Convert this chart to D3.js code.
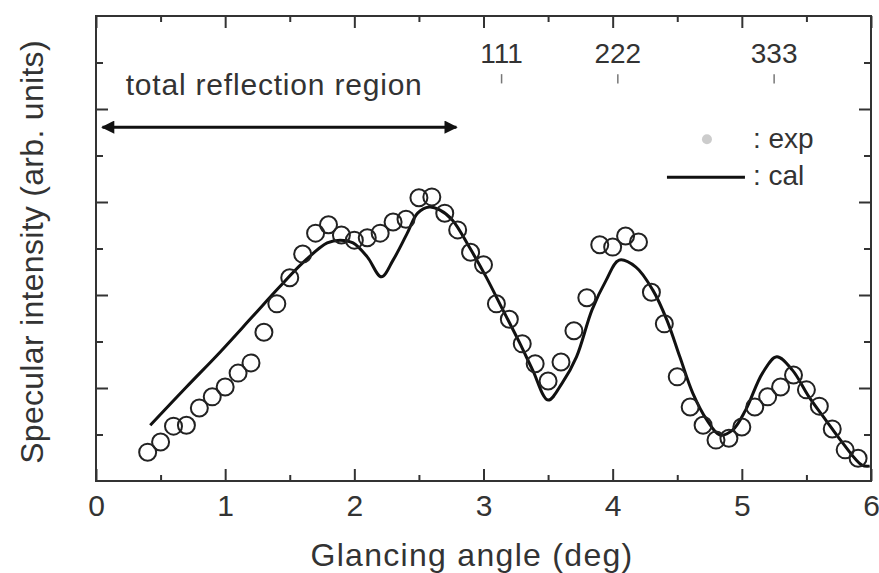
<!DOCTYPE html>
<html lang="en">
<head>
    <meta charset="UTF-8">
    <title>Specular intensity vs glancing angle</title>
    <script src="https://d3js.org/d3.v7.min.js"></script>
    <style>
        body { margin: 0; background: #fff; }
        text { font-family: "Liberation Sans", Arial, sans-serif; fill: #333; }
        .frame { fill: none; stroke: #333; stroke-width: 2; }
        .axis path { display: none; }
        .axis line { stroke: #333; stroke-width: 2; }
        .exp { fill: none; stroke: #222; stroke-width: 2; }
        .cal { fill: none; stroke: #111; stroke-width: 3; }
    </style>
</head>
<body>
<div id="chart"></div>
<script>
    // measured points (open circles)
    const expAngle = [0.4, 0.5, 0.6, 0.7, 0.8, 0.9, 1.0, 1.1, 1.2, 1.3, 1.4, 1.5, 1.6, 1.7, 1.8, 1.9,
        2.0, 2.1, 2.2, 2.3, 2.4, 2.5, 2.6, 2.7, 2.8, 2.9, 3.0, 3.1, 3.2, 3.3, 3.4, 3.5, 3.6, 3.7,
        3.8, 3.9, 4.0, 4.1, 4.2, 4.3, 4.4, 4.5, 4.6, 4.7, 4.8, 4.9, 5.0, 5.1, 5.2, 5.3, 5.4, 5.5,
        5.6, 5.7, 5.8, 5.9];
    const expIntensity = [0.62, 0.84, 1.18, 1.20, 1.57, 1.81, 2.02, 2.32, 2.54, 3.20, 3.81, 4.37,
        4.88, 5.33, 5.51, 5.29, 5.18, 5.23, 5.33, 5.57, 5.63, 6.09, 6.11, 5.76, 5.40, 4.92, 4.65,
        3.81, 3.48, 2.95, 2.52, 2.15, 2.56, 3.23, 3.94, 5.08, 5.03, 5.27, 5.14, 4.06, 3.38, 2.24,
        1.59, 1.20, 0.88, 0.92, 1.16, 1.59, 1.81, 2.02, 2.28, 1.96, 1.61, 1.12, 0.67, 0.49];

    // calculated curve (solid line)
    const calAngle = [0.42, 0.70, 0.96, 1.21, 1.42, 1.60, 1.79, 1.89, 1.99, 2.10, 2.21, 2.30, 2.41,
        2.49, 2.58, 2.66, 2.76, 2.89, 3.02, 3.15, 3.28, 3.38, 3.50, 3.61, 3.72, 3.84, 3.95, 4.05,
        4.18, 4.31, 4.42, 4.52, 4.62, 4.73, 4.83, 4.93, 5.03, 5.16, 5.27, 5.39, 5.52, 5.65, 5.78,
        5.93, 5.99];
    const calIntensity = [1.20, 2.02, 2.77, 3.53, 4.17, 4.69, 5.12, 5.18, 5.12, 4.82, 4.39, 4.75,
        5.33, 5.76, 5.89, 5.83, 5.61, 5.03, 4.39, 3.68, 2.97, 2.39, 1.74, 2.11, 2.67, 3.68, 4.32,
        4.75, 4.60, 4.11, 3.46, 2.67, 1.89, 1.31, 0.99, 1.10, 1.53, 2.32, 2.67, 2.39, 1.81, 1.31,
        0.82, 0.34, 0.32];

    // Bragg peak markers
    const braggLabels = ["111", "222", "333"];
    const braggAngle = [3.14, 4.04, 5.25];

    const xTicks = [0, 1, 2, 3, 4, 5, 6];
    const xMinorTicks = [0.5, 1.5, 2.5, 3.5, 4.5, 5.5];
    const yTicks = [2, 4, 6, 8];
    const yMinorTicks = [1, 3, 5, 7, 9];

    const W = 879, H = 573;
    const margin = {top: 16, right: 8, bottom: 92, left: 96},
        width = W - margin.left - margin.right,
        height = H - margin.top - margin.bottom;

    const svg = d3.select("#chart").append("svg")
        .attr("width", W)
        .attr("height", H);

    const g = svg.append("g")
        .attr("transform", "translate(" + margin.left + "," + margin.top + ")");

    const x = d3.scaleLinear().domain([0, 6]).range([0, width]);
    const y = d3.scaleLinear().domain([0, 10]).range([height, 0]);

    // ticks, all pointing inward
    function addAxis(axisFn, values, size, transform, labels) {
        return g.append("g")
            .attr("class", "axis")
            .attr("transform", transform)
            .call(axisFn.tickValues(values).tickSize(-size).tickPadding(14)
                .tickFormat(labels ? d3.format("d") : ""));
    }
    const bottom = addAxis(d3.axisBottom(x), xTicks, 12, "translate(0," + height + ")", true);
    bottom.selectAll("text").style("font-size", "30px");
    addAxis(d3.axisBottom(x), xMinorTicks, 6, "translate(0," + height + ")", false);
    addAxis(d3.axisTop(x), xTicks, 12, "translate(0,0)", false);
    addAxis(d3.axisTop(x), xMinorTicks, 6, "translate(0,0)", false);
    addAxis(d3.axisLeft(y), yTicks, 12, "translate(0,0)", false);
    addAxis(d3.axisLeft(y), yMinorTicks, 7, "translate(0,0)", false);
    addAxis(d3.axisRight(y), yTicks, 12, "translate(" + width + ",0)", false);
    addAxis(d3.axisRight(y), yMinorTicks, 7, "translate(" + width + ",0)", false);

    g.append("rect")
        .attr("class", "frame")
        .attr("width", width)
        .attr("height", height);

    // axis titles
    svg.append("text")
        .attr("x", 472)
        .attr("y", 566)
        .attr("text-anchor", "middle")
        .style("font-size", "32px")
        .style("letter-spacing", "1.3px")
        .text("Glancing angle (deg)");

    svg.append("text")
        .attr("transform", "translate(43,252) rotate(-90)")
        .attr("text-anchor", "middle")
        .style("font-size", "32px")
        .style("letter-spacing", "0.3px")
        .text("Specular intensity (arb. units)");

    // total reflection arrow
    const defs = svg.append("defs");
    defs.append("marker")
        .attr("id", "head")
        .attr("viewBox", "0 0 10 10")
        .attr("refX", 9).attr("refY", 5)
        .attr("markerWidth", 5).attr("markerHeight", 4.4)
        .attr("orient", "auto-start-reverse")
        .append("path")
        .attr("d", "M0,0 L10,5 L0,10 Z")
        .attr("fill", "#111");

    g.append("line")
        .attr("x1", x(0.05)).attr("x2", x(2.79))
        .attr("y1", y(7.61)).attr("y2", y(7.61))
        .attr("stroke", "#111")
        .attr("stroke-width", 3)
        .attr("marker-start", "url(#head)")
        .attr("marker-end", "url(#head)");

    g.append("text")
        .attr("x", x(0.23))
        .attr("y", y(8.3))
        .style("font-size", "30px")
        .style("letter-spacing", "0.8px")
        .text("total reflection region");

    // Bragg peak labels and markers
    braggLabels.forEach(function(lab, i) {
        g.append("text")
            .attr("x", x(braggAngle[i]))
            .attr("y", y(9.0))
            .attr("text-anchor", "middle")
            .style("font-size", "28px")
            .text(lab);
        g.append("line")
            .attr("x1", x(braggAngle[i])).attr("x2", x(braggAngle[i]))
            .attr("y1", y(8.75)).attr("y2", y(8.55))
            .attr("stroke", "#777")
            .attr("stroke-width", 1.5);
    });

    // calculated curve
    const line = d3.line()
        .x(function(d, i) { return x(calAngle[i]); })
        .y(function(d) { return y(d); })
        .curve(d3.curveCatmullRom.alpha(0.5));

    g.append("path")
        .datum(calIntensity)
        .attr("class", "cal")
        .attr("d", line);

    // experimental points
    g.selectAll(".exp")
        .data(expIntensity)
        .join("circle")
        .attr("class", "exp")
        .attr("cx", function(d, i) { return x(expAngle[i]); })
        .attr("cy", function(d) { return y(d); })
        .attr("r", 8.5);

    // legend
    const lg = g.append("g").attr("transform", "translate(" + (x(4.73)) + "," + y(7.35) + ")");
    lg.append("circle")
        .attr("cx", 0).attr("cy", 0)
        .attr("r", 5)
        .attr("fill", "#ccc");
    lg.append("line")
        .attr("x1", -40).attr("x2", 38)
        .attr("y1", 38).attr("y2", 38)
        .attr("stroke", "#111")
        .attr("stroke-width", 3);
    lg.append("text")
        .attr("x", 46).attr("y", 9)
        .style("font-size", "28px")
        .text(": exp");
    lg.append("text")
        .attr("x", 46).attr("y", 46)
        .style("font-size", "28px")
        .text(": cal");
</script>
</body>
</html>
